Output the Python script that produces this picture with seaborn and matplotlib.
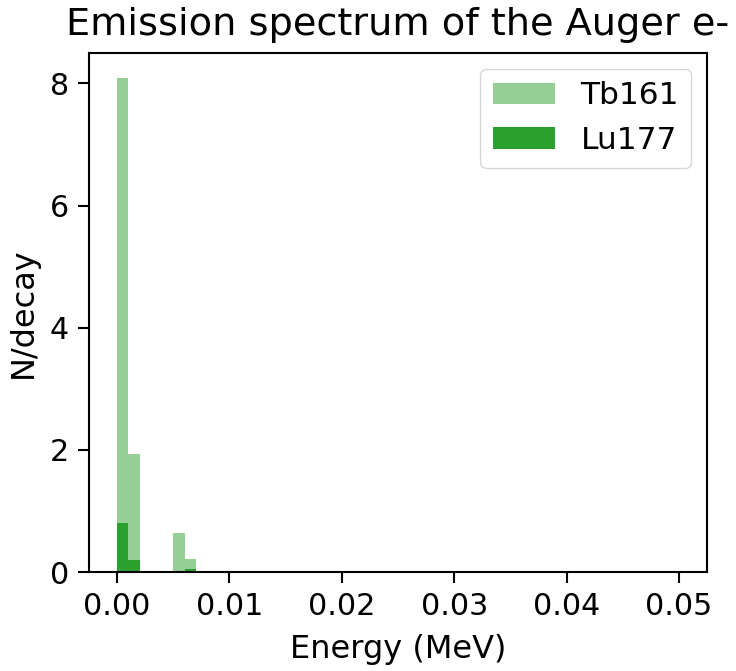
import matplotlib
matplotlib.use("Agg")
import matplotlib.pyplot as plt
import seaborn as sns
import numpy as np

# Histogram bins (MeV): 50 bins of 1 keV from 0 to 0.05 MeV
bin_edges_lo = 0.0
bin_edges_hi = 0.05
n_bins = 50

# Bin centres with non-zero content and their N/decay values
tb161_energy = [0.0005, 0.0015, 0.0055, 0.0065, 0.0075]
tb161_ndecay = [8.09, 1.93, 0.64, 0.22, 0.02]

lu177_energy = [0.0005, 0.0015, 0.0065, 0.0075]
lu177_ndecay = [0.80, 0.19, 0.05, 0.01]

xtick_vals = [0.0, 0.01, 0.02, 0.03, 0.04, 0.05]
xtick_labels = ['0.00', '0.01', '0.02', '0.03', '0.04', '0.05']
ytick_vals = [0, 2, 4, 6, 8]

plt.rcParams['font.family'] = ['DejaVu Sans']
fig = plt.figure(figsize=(7.36, 6.71), dpi=100)
ax = fig.add_axes([89/736, 99/671, (707-89)/736, (572-53.3)/671])

sns.histplot(x=tb161_energy, weights=tb161_ndecay, bins=n_bins,
             binrange=(bin_edges_lo, bin_edges_hi), color='tab:green',
             alpha=0.5, linewidth=0, ax=ax, label='Tb161')
sns.histplot(x=lu177_energy, weights=lu177_ndecay, bins=n_bins,
             binrange=(bin_edges_lo, bin_edges_hi), color='tab:green',
             alpha=1.0, linewidth=0, ax=ax, label='Lu177')

ax.set_title('Emission spectrum of the Auger e-', fontsize=27.5, pad=13)
ax.set_xlabel('Energy (MeV)', fontsize=23, labelpad=9)
ax.set_ylabel('N/decay', fontsize=23, labelpad=8)
ax.tick_params(labelsize=21.7, length=8, width=1.5, pad=6.5)
for s in ax.spines.values():
    s.set_linewidth(1.5)
ax.set_yticks(ytick_vals)
ax.set_xticks(xtick_vals)
ax.set_xticklabels(xtick_labels)
ax.legend(loc='upper right', fontsize=22.5)

fig.savefig('out.png', dpi=100)
